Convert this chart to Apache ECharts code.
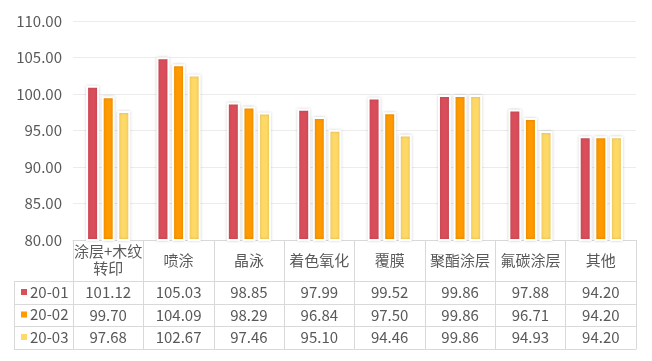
<!DOCTYPE html>
<html><head><meta charset="utf-8">
<script src="https://cdn.jsdelivr.net/npm/echarts@6/dist/echarts.min.js"></script>
<style>html,body{margin:0;padding:0;background:#fff}#c{width:652px;height:361px}</style>
</head><body><div id="c"></div>
<script>
var categories = ['涂层+木纹转印','喷涂','晶泳','着色氧化','覆膜','聚酯涂层','氟碳涂层','其他'];
var seriesNames = ['20-01','20-02','20-03'];
var s2001 = [101.12,105.03,98.85,97.99,99.52,99.86,97.88,94.20];
var s2002 = [99.70,104.09,98.29,96.84,97.50,99.86,96.71,94.20];
var s2003 = [97.68,102.67,97.46,95.10,94.46,99.86,94.93,94.20];
var yTicks = {min:80, max:110, interval:5};
var colors = ['#DA4E5B','#FF9A00','#FFD966'];
var allSeries = [s2001, s2002, s2003];

var font = '"Noto Sans CJK SC","Noto Sans",sans-serif';
var txt = '#595959';
var lineC = '#d9d9d9';
var chart = echarts.init(document.getElementById('c'));

var rowOffsets = [41, 64, 86];
var xAxes = [{
  type:'category', data:categories, position:'bottom', gridIndex:0,
  axisLine:{show:true, lineStyle:{color:lineC}},
  axisTick:{show:true, length:109, interval:0, lineStyle:{color:lineC}},
  axisLabel:{interval:0, color:txt, fontSize:15, fontFamily:font, margin:20, verticalAlign:'middle', lineHeight:17, width:72, overflow:'break'}
}];
allSeries.forEach(function(arr, i){
  xAxes.push({
    type:'category', data:categories, position:'bottom', offset:rowOffsets[i],
    axisLine:{show:true, lineStyle:{color:lineC}},
    axisTick:{show:false},
    axisLabel:{interval:0, color:txt, fontSize:15, fontFamily:font, margin:11, verticalAlign:'middle',
      formatter:(function(a){return function(v, idx){return a[idx].toFixed(2);};})(arr)}
  });
});
xAxes.push({type:'category', data:categories, position:'bottom', offset:109,
  axisLine:{show:true, lineStyle:{color:lineC}}, axisTick:{show:false}, axisLabel:{show:false}});

var option = {
  animation:false,
  color:colors,
  grid:{left:73, right:16, top:21, bottom:121},
  legend:{
    orient:'vertical', left:21, top:283.5, padding:0, itemWidth:6, itemHeight:6, itemGap:5.5, icon:'rect',
    itemStyle:{borderWidth:0, shadowBlur:0},
    textStyle:{color:txt, fontSize:15, fontFamily:font, lineHeight:17, padding:[0,0,0,-2]},
    data:seriesNames, selectedMode:false
  },
  xAxis:xAxes,
  yAxis:{
    type:'value', min:yTicks.min, max:yTicks.max, interval:yTicks.interval,
    axisLine:{show:false}, axisTick:{show:false},
    axisLabel:{color:txt, fontSize:15, fontFamily:font, margin:11, formatter:function(v){return v.toFixed(2);}},
    splitLine:{lineStyle:{color:'#ececec'}}
  },
  series: allSeries.map(function(arr, i){
    return {
      name:seriesNames[i], type:'bar', data:arr, xAxisIndex:0,
      barWidth:13, barGap:'20%',
      itemStyle:{color:colors[i], borderColor:'#fff', borderWidth:2, shadowColor:'rgba(0,0,0,0.18)', shadowBlur:3}
    };
  }),
  graphic:[
    {type:'line', shape:{x1:14, y1:281.5, x2:73, y2:281.5}, style:{stroke:lineC, lineWidth:1}},
    {type:'line', shape:{x1:14, y1:304.5, x2:73, y2:304.5}, style:{stroke:lineC, lineWidth:1}},
    {type:'line', shape:{x1:14, y1:326.5, x2:73, y2:326.5}, style:{stroke:lineC, lineWidth:1}},
    {type:'line', shape:{x1:14, y1:349.5, x2:73, y2:349.5}, style:{stroke:lineC, lineWidth:1}},
    {type:'line', shape:{x1:14.5, y1:281, x2:14.5, y2:350}, style:{stroke:lineC, lineWidth:1}}
  ]
};
chart.setOption(option);
</script></body></html>
